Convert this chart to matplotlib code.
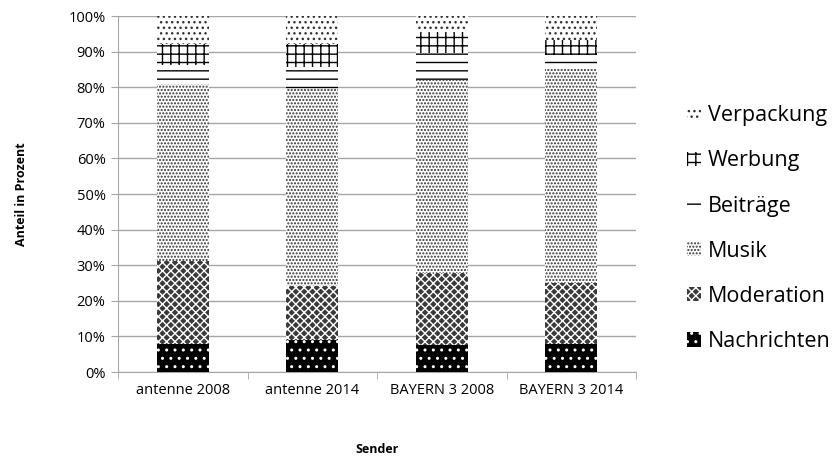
import matplotlib
matplotlib.use("Agg")
import matplotlib.pyplot as plt
import matplotlib.ticker as ticker
import numpy as np

matplotlib.rcParams["font.family"] = ["Open Sans", "DejaVu Sans"]
matplotlib.rcParams["hatch.linewidth"] = 1.0

GRID_COLOR = "#A6A6A6"
TEXT_COLOR = "#000000"

senders = ["antenne 2008", "antenne 2014", "BAYERN 3 2008", "BAYERN 3 2014"]

# Anteile in Prozent, je Sender (von unten nach oben gestapelt)
nachrichten = [7.9, 9.0, 7.6, 8.0]
moderation = [23.4, 15.2, 20.3, 16.9]
musik = [49.7, 55.2, 54.1, 60.4]
beitraege = [5.3, 6.4, 7.5, 3.7]
werbung = [5.7, 6.2, 6.1, 4.3]
verpackung = [8.0, 8.0, 4.4, 6.7]

SERIES = [
    ("Nachrichten", nachrichten, {"facecolor": "black", "edgecolor": "white", "hatch": ".."}),
    ("Moderation", moderation, {"facecolor": "#3a3a3a", "edgecolor": "white", "hatch": "xxxx"}),
    ("Musik", musik, {"facecolor": "white", "edgecolor": "#333333", "hatch": "....."}),
    ("Beiträge", beitraege, {"facecolor": "white", "edgecolor": "black", "hatch": "--"}),
    ("Werbung", werbung, {"facecolor": "white", "edgecolor": "black", "hatch": "++"}),
    ("Verpackung", verpackung, {"facecolor": "white", "edgecolor": "#333333", "hatch": "..."}),
]


def main():
    fig = plt.figure(figsize=(8.34, 4.62), dpi=100)
    ax = fig.add_axes([118 / 834, 1 - 372 / 462, (636 - 118) / 834, (372 - 16) / 462])

    x = np.arange(len(senders))
    bottom = np.zeros(len(senders))
    handles = []
    for name, vals, style in SERIES:
        vals = np.array(vals)
        b = ax.bar(x, vals, width=0.4, bottom=bottom, linewidth=0, label=name,
                   zorder=3, **style)
        handles.append(b)
        bottom += vals

    ax.set_xlim(-0.5, len(senders) - 0.5)
    ax.set_ylim(0, 100)
    ax.yaxis.set_major_locator(ticker.MultipleLocator(10))
    ax.yaxis.set_major_formatter(ticker.FormatStrFormatter("%d%%"))
    ax.set_xticks(x)
    ax.set_xticklabels(senders, fontsize=10.5, color=TEXT_COLOR)
    ax.set_xticks(np.arange(-0.5, len(senders)), minor=True)
    ax.tick_params(axis="x", which="major", length=0, pad=8)
    ax.tick_params(axis="x", which="minor", length=5, color=GRID_COLOR)
    ax.tick_params(axis="y", labelsize=10.5, colors=TEXT_COLOR, length=5, color=GRID_COLOR, pad=4)

    ax.grid(axis="y", color=GRID_COLOR, linewidth=1.0, zorder=0)
    ax.set_axisbelow(True)
    for s in ["top", "right"]:
        ax.spines[s].set_visible(False)
    ax.spines["left"].set_color(GRID_COLOR)
    ax.spines["bottom"].set_color(GRID_COLOR)

    ax.set_ylabel("Anteil in Prozent", fontsize=9, fontweight="bold", labelpad=29)
    ax.set_xlabel("Sender", fontsize=9, fontweight="bold", labelpad=32)

    fig.legend(handles[::-1], [h.get_label() for h in handles[::-1]],
               loc="upper left", bbox_to_anchor=(668 / 834, 1 - 86 / 462),
               frameon=False, fontsize=15.5, handlelength=0.65, handleheight=0.65,
               handletextpad=0.3, labelspacing=1.12)

    fig.savefig("out.png", dpi=100)
    plt.close(fig)


if __name__ == "__main__":
    main()
